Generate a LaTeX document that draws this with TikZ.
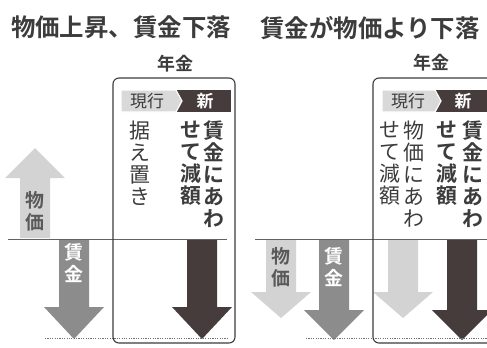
\documentclass[tikz,border=0pt]{standalone}
\usepackage{fontspec}
\setmainfont{Noto Sans CJK JP}[BoldFont={Noto Sans CJK JP Bold}]
\definecolor{bukka}{HTML}{D3D3D3}
\definecolor{chingin}{HTML}{8C8C8C}
\definecolor{nenkindark}{HTML}{463C3C}
\definecolor{headgray}{HTML}{D9D9D9}
\definecolor{inkgray}{HTML}{3C3C3C}
\tikzset{
  midashi/.style={font=\bfseries\fontsize{24.5}{24.5}\selectfont, text=inkgray, inner sep=0pt},
  nenkin/.style={font=\bfseries\fontsize{18}{18}\selectfont, text=inkgray, inner sep=0pt},
  genko/.style={font=\fontsize{17}{17}\selectfont, text=inkgray, inner sep=0pt},
  shin/.style={font=\bfseries\fontsize{17}{17}\selectfont, text=white, inner sep=0pt},
  tate/.style={anchor=north, align=center, inner sep=0pt, text=inkgray,
    font=\fontsize{21}{22}\selectfont},
  tatebold/.style={tate, font=\bfseries\fontsize{21}{22}\selectfont},
  yaji/.style={align=center, inner sep=0pt, font=\bfseries\fontsize{19}{22}\selectfont},
  waku/.style={draw=inkgray, line width=1.1pt, rounded corners=6},
  kijun/.style={draw=inkgray!80, line width=0.9pt},
  tensen/.style={draw=gray!90!black, line width=0.9pt, dash pattern=on 1.2pt off 1.2pt}
}
% arrow: fill, centre x, base y, head base y, tip y
\newcommand{\yajirushi}[5]{%
  \fill[#1] ({#2-15},#3) -- ({#2+15},#3) -- ({#2+15},#4) -- ({#2+30},#4)
    -- (#2,#5) -- ({#2-30},#4) -- ({#2-15},#4) -- cycle;}
\begin{document}
\begin{tikzpicture}[x=1bp,y=-1bp]
\clip (0,0) rectangle (487,347);
\fill[white] (0,0) rectangle (487,347);

% titles
\node[midashi] (title1) at (121,27) {物価上昇、賃金下落};
\node[midashi] (title2) at (370,28) {賃金が物価より下落};
\node[nenkin] (nenkin1) at (175,64) {年金};
\node[nenkin] (nenkin2) at (431,63) {年金};

% left panel
\fill[nenkindark] (176,90) rectangle (231,112);
\fill[headgray, draw=white, line width=1.2pt] (121,90) -- (176,90) -- (182,101) -- (176,112) -- (121,112) -- cycle;
\node[genko] (genko1) at (147,101) {現行};
\node[shin] (shin1) at (205,101) {新};
\node[tate] (sueoki) at (140,121) {据\\え\\置\\き};
\node[tatebold] (awase1a) at (214,121) {賃\\金\\に\\あ\\わ};
\node[tatebold] (awase1b) at (191,121) {せ\\て\\減\\額};

\yajirushi{bukka}{35}{238}{178}{148}
\yajirushi{chingin}{74}{240}{307}{339}
\yajirushi{nenkindark}{202}{240}{307}{339}
\node[yaji, text=inkgray!85] (bukka1) at (35,211) {物\\価};
\node[yaji, text=white] (chingin1) at (74,263) {賃\\金};
\draw[kijun] (8,239) -- (227,239);
\draw[tensen] (45,338) -- (229,338);
\draw[waku] (113,343) rectangle (235,78);

% right panel
\fill[nenkindark] (435,90) rectangle (495,112);
\fill[headgray, draw=white, line width=1.2pt] (382,90) -- (435,90) -- (441,101) -- (435,112) -- (382,112) -- cycle;
\node[genko] (genko2) at (408,101) {現行};
\node[shin] (shin2) at (463,101) {新};
\node[tate] (awase2a) at (414,121) {物\\価\\に\\あ\\わ};
\node[tate] (awase2b) at (390,121) {せ\\て\\減\\額};
\node[tatebold] (awase3a) at (473,121) {賃\\金\\に\\あ\\わ};
\node[tatebold] (awase3b) at (447,121) {せ\\て\\減\\額};

\yajirushi{bukka}{281}{240}{292}{318}
\yajirushi{chingin}{334}{240}{310}{340}
\yajirushi{bukka}{403}{240}{292}{318}
\yajirushi{nenkindark}{462}{240}{310}{340}
\node[yaji, text=inkgray!85] (bukka2) at (281,267) {物\\価};
\node[yaji, text=white] (chingin2) at (334,267) {賃\\金};
\draw[kijun] (255,239) -- (490,239);
\draw[tensen] (306,338) -- (490,338);
\draw[waku] (373,343) rectangle (500,78);
\end{tikzpicture}
\end{document}
